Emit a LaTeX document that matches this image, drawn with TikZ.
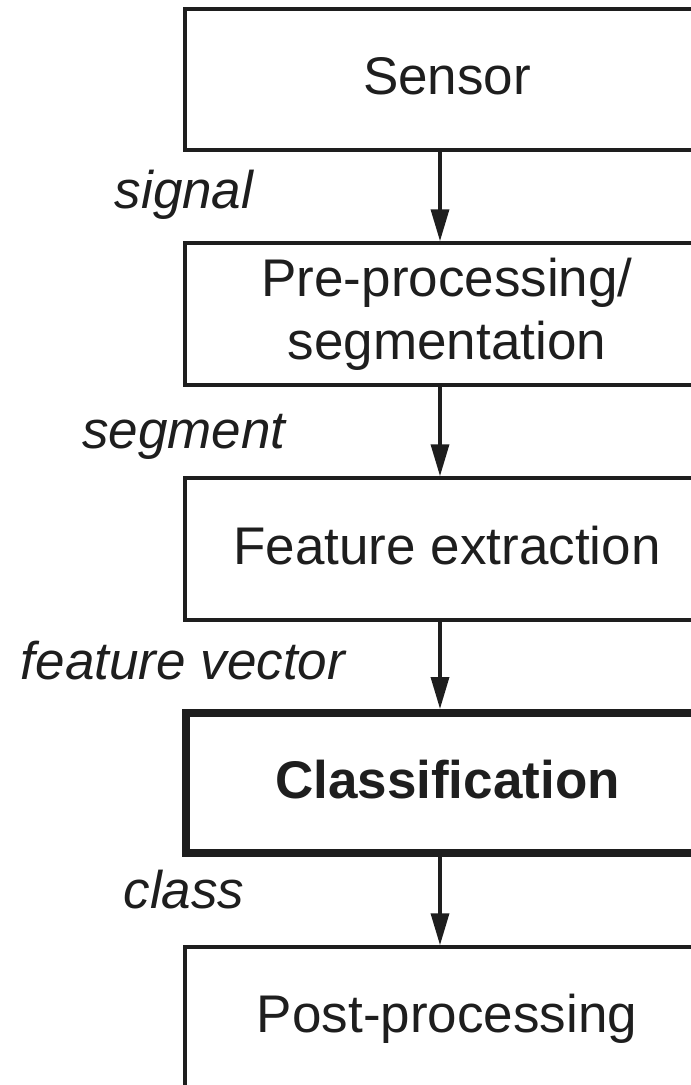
\documentclass[tikz,border=0pt]{standalone}
\usepackage{fontspec}
\setmainfont{Liberation Sans}
\usetikzlibrary{arrows.meta}
\definecolor{ink}{HTML}{1E1E1E}
\begin{document}
\begin{tikzpicture}[x=1pt,y=-1pt,
  stage/.style={draw=ink, text=ink, line width=3.5pt, minimum width=524pt,
    minimum height=141pt, inner sep=0pt, align=center,
    font=\fontsize{53}{63}\selectfont},
  oneline/.style={text height=40pt, text depth=10pt},
  keystage/.style={stage, line width=8pt, minimum height=140pt,
    font=\fontsize{53}{63}\selectfont\bfseries},
  flow/.style={draw=ink, line width=3.5pt, -{Triangle[width=18pt,length=32pt]}},
  datalabel/.style={anchor=base, text=ink, inner sep=0pt,
    font=\fontsize{53}{63}\selectfont\itshape}]
  \useasboundingbox (0,0) rectangle (691,1085);
  % common x position of the flow arrows
  \coordinate (ax) at (440,0);

  % processing stages
  \node[stage,oneline] (sensor) at (447,79.5) {Sensor};
  \node[stage,minimum height=142pt] (prep) at (447,314) {Pre-processing/\\segmentation};
  \node[stage,oneline,minimum height=142pt] (feat) at (447,549) {Feature extraction};
  \node[keystage,oneline] (clf) at (447.5,783) {Classification};
  \node[stage,oneline] (post) at (447,1017.5) {Post-processing};

  % data flow between stages
  \draw[flow] (sensor.south -| ax) -- (prep.north -| ax);
  \draw[flow] (prep.south -| ax) -- (feat.north -| ax);
  \draw[flow] (feat.south -| ax) -- (clf.north -| ax);
  \draw[flow] (clf.south -| ax) -- (post.north -| ax);

  % what is passed along each arrow
  \node[datalabel] (lsignal) at (184,208) {signal};
  \node[datalabel] (lsegment) at (184,448) {segment};
  \node[datalabel] (lfeature) at (183,679) {feature vector};
  \node[datalabel] (lclass) at (184,908) {class};
\end{tikzpicture}
\end{document}
